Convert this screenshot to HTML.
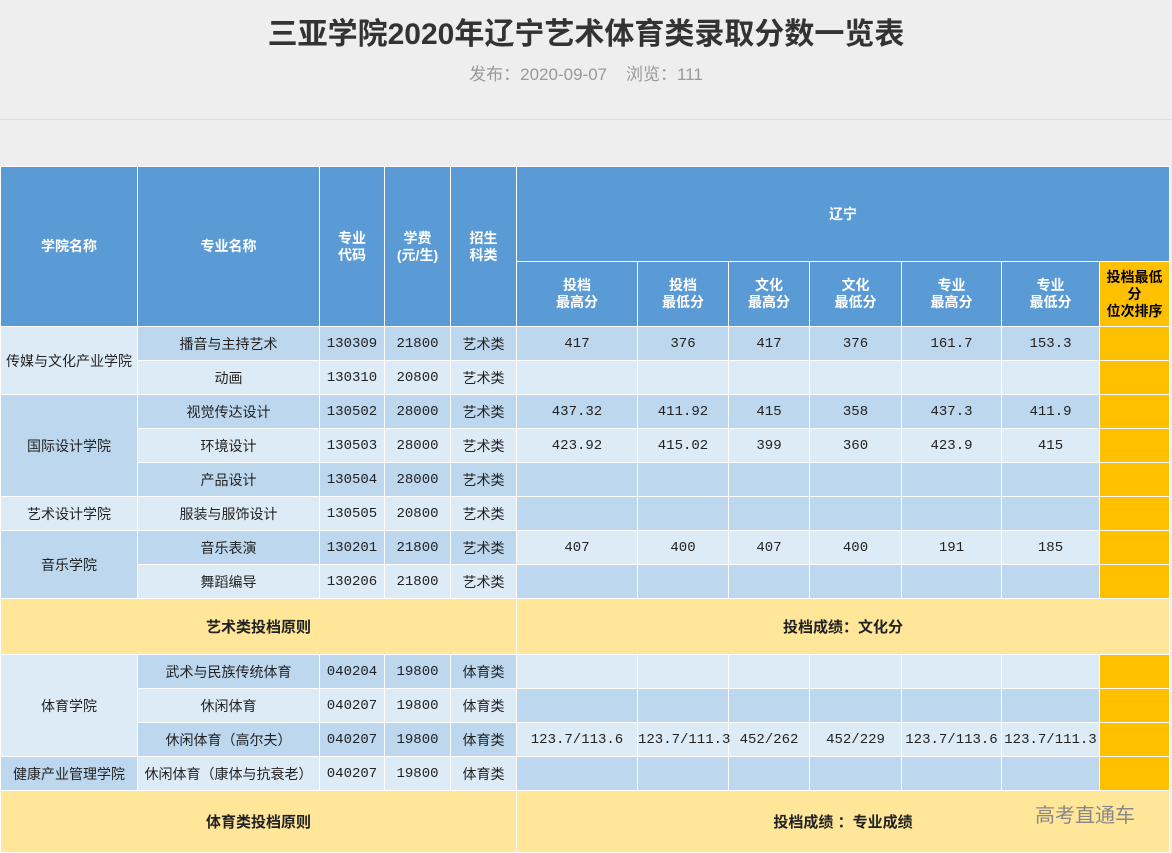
<!DOCTYPE html>
<html><head><meta charset="utf-8">
<style>
body{margin:0;width:1172px;height:851px;background:#eeeeee;overflow:hidden;position:relative;font-family:"Liberation Sans","Noto Sans CJK SC",sans-serif;}
h1{position:absolute;top:9px;left:0;width:1172px;text-align:center;margin:0;font-size:30px;font-weight:bold;color:#333;}
.sub{position:absolute;top:60px;left:0;width:1172px;text-align:center;font-size:17px;color:#999;}
.hr{position:absolute;top:119px;left:0;width:1172px;height:1px;background:#ddd;}
table{position:absolute;left:0;top:166px;border-collapse:collapse;table-layout:fixed;width:1169px;font-size:14px;color:#222;}
td{border:1px solid #fff;text-align:center;padding:0;font-family:"Liberation Mono","Noto Sans CJK SC",monospace;}
.h{background:#5b9bd5;color:#fff;font-weight:bold;font-family:"Liberation Sans","Noto Sans CJK SC",sans-serif;line-height:17px;}
.o{background:#ffc000;}
.oh{background:#ffc000;color:#000;font-weight:bold;line-height:17px;font-family:"Liberation Sans","Noto Sans CJK SC",sans-serif;}
.D{background:#bdd7ee;}
.L{background:#ddebf7;}
.Y{background:#ffe699;font-weight:bold;font-size:15px;font-family:"Liberation Sans","Noto Sans CJK SC",sans-serif;}
.c{font-family:"Liberation Sans","Noto Sans CJK SC",sans-serif;}
.r{height:34px;}
.wm{position:absolute;left:1035px;top:799px;font-size:20px;color:#888;}
</style></head><body>
<h1>三亚学院2020年辽宁艺术体育类录取分数一览表</h1>
<div class="sub">发布：2020-09-07 &nbsp;&nbsp;&nbsp;浏览：111</div>
<div class="hr"></div>
<table>
<colgroup><col style="width:137px"><col style="width:182px"><col style="width:65px"><col style="width:66px"><col style="width:66px"><col style="width:121px"><col style="width:91px"><col style="width:81px"><col style="width:92px"><col style="width:100px"><col style="width:98px"><col style="width:70px"></colgroup>
<tr style="height:95px"><td class="h" rowspan="2">学院名称</td><td class="h" rowspan="2">专业名称</td><td class="h" rowspan="2">专业<br>代码</td><td class="h" rowspan="2">学费<br>(元/生)</td><td class="h" rowspan="2">招生<br>科类</td><td class="h" colspan="7">辽宁</td></tr>
<tr style="height:65px"><td class="h">投档<br>最高分</td><td class="h">投档<br>最低分</td><td class="h">文化<br>最高分</td><td class="h">文化<br>最低分</td><td class="h">专业<br>最高分</td><td class="h">专业<br>最低分</td><td class="oh">投档最低<br>分<br>位次排序</td></tr>
<tr class="r"><td class="L c" rowspan="2">传媒与文化产业学院</td><td class="D c">播音与主持艺术</td><td class="D">130309</td><td class="D">21800</td><td class="D c">艺术类</td><td class="D">417</td><td class="D">376</td><td class="D">417</td><td class="D">376</td><td class="D">161.7</td><td class="D">153.3</td><td class="o"></td></tr>
<tr class="r"><td class="L c">动画</td><td class="L">130310</td><td class="L">20800</td><td class="L c">艺术类</td><td class="L"></td><td class="L"></td><td class="L"></td><td class="L"></td><td class="L"></td><td class="L"></td><td class="o"></td></tr>
<tr class="r"><td class="D c" rowspan="3">国际设计学院</td><td class="D c">视觉传达设计</td><td class="D">130502</td><td class="D">28000</td><td class="D c">艺术类</td><td class="D">437.32</td><td class="D">411.92</td><td class="D">415</td><td class="D">358</td><td class="D">437.3</td><td class="D">411.9</td><td class="o"></td></tr>
<tr class="r"><td class="L c">环境设计</td><td class="L">130503</td><td class="L">28000</td><td class="L c">艺术类</td><td class="L">423.92</td><td class="L">415.02</td><td class="L">399</td><td class="L">360</td><td class="L">423.9</td><td class="L">415</td><td class="o"></td></tr>
<tr class="r"><td class="D c">产品设计</td><td class="D">130504</td><td class="D">28000</td><td class="D c">艺术类</td><td class="D"></td><td class="D"></td><td class="D"></td><td class="D"></td><td class="D"></td><td class="D"></td><td class="o"></td></tr>
<tr class="r"><td class="L c">艺术设计学院</td><td class="L c">服装与服饰设计</td><td class="L">130505</td><td class="L">20800</td><td class="L c">艺术类</td><td class="D"></td><td class="D"></td><td class="D"></td><td class="D"></td><td class="D"></td><td class="D"></td><td class="o"></td></tr>
<tr class="r"><td class="D c" rowspan="2">音乐学院</td><td class="D c">音乐表演</td><td class="D">130201</td><td class="D">21800</td><td class="D c">艺术类</td><td class="L">407</td><td class="L">400</td><td class="L">407</td><td class="L">400</td><td class="L">191</td><td class="L">185</td><td class="o"></td></tr>
<tr class="r"><td class="L c">舞蹈编导</td><td class="L">130206</td><td class="L">21800</td><td class="L c">艺术类</td><td class="D"></td><td class="D"></td><td class="D"></td><td class="D"></td><td class="D"></td><td class="D"></td><td class="o"></td></tr>
<tr style="height:56px"><td class="Y" colspan="5">艺术类投档原则</td><td class="Y" colspan="7">投档成绩：文化分</td></tr>
<tr class="r"><td class="L c" rowspan="3">体育学院</td><td class="D c">武术与民族传统体育</td><td class="D">040204</td><td class="D">19800</td><td class="D c">体育类</td><td class="L"></td><td class="L"></td><td class="L"></td><td class="L"></td><td class="L"></td><td class="L"></td><td class="o"></td></tr>
<tr class="r"><td class="L c">休闲体育</td><td class="L">040207</td><td class="L">19800</td><td class="L c">体育类</td><td class="D"></td><td class="D"></td><td class="D"></td><td class="D"></td><td class="D"></td><td class="D"></td><td class="o"></td></tr>
<tr class="r"><td class="D c">休闲体育（高尔夫）</td><td class="D">040207</td><td class="D">19800</td><td class="D c">体育类</td><td class="L">123.7/113.6</td><td class="L">123.7/111.3</td><td class="L">452/262</td><td class="L">452/229</td><td class="L">123.7/113.6</td><td class="L">123.7/111.3</td><td class="o"></td></tr>
<tr class="r"><td class="D c">健康产业管理学院</td><td class="L c">休闲体育（康体与抗衰老）</td><td class="L">040207</td><td class="L">19800</td><td class="L c">体育类</td><td class="D"></td><td class="D"></td><td class="D"></td><td class="D"></td><td class="D"></td><td class="D"></td><td class="o"></td></tr>
<tr style="height:62px"><td class="Y" colspan="5">体育类投档原则</td><td class="Y" colspan="7">投档成绩 ：专业成绩</td></tr>
</table>
<div class="wm">高考直通车</div>
</body></html>
